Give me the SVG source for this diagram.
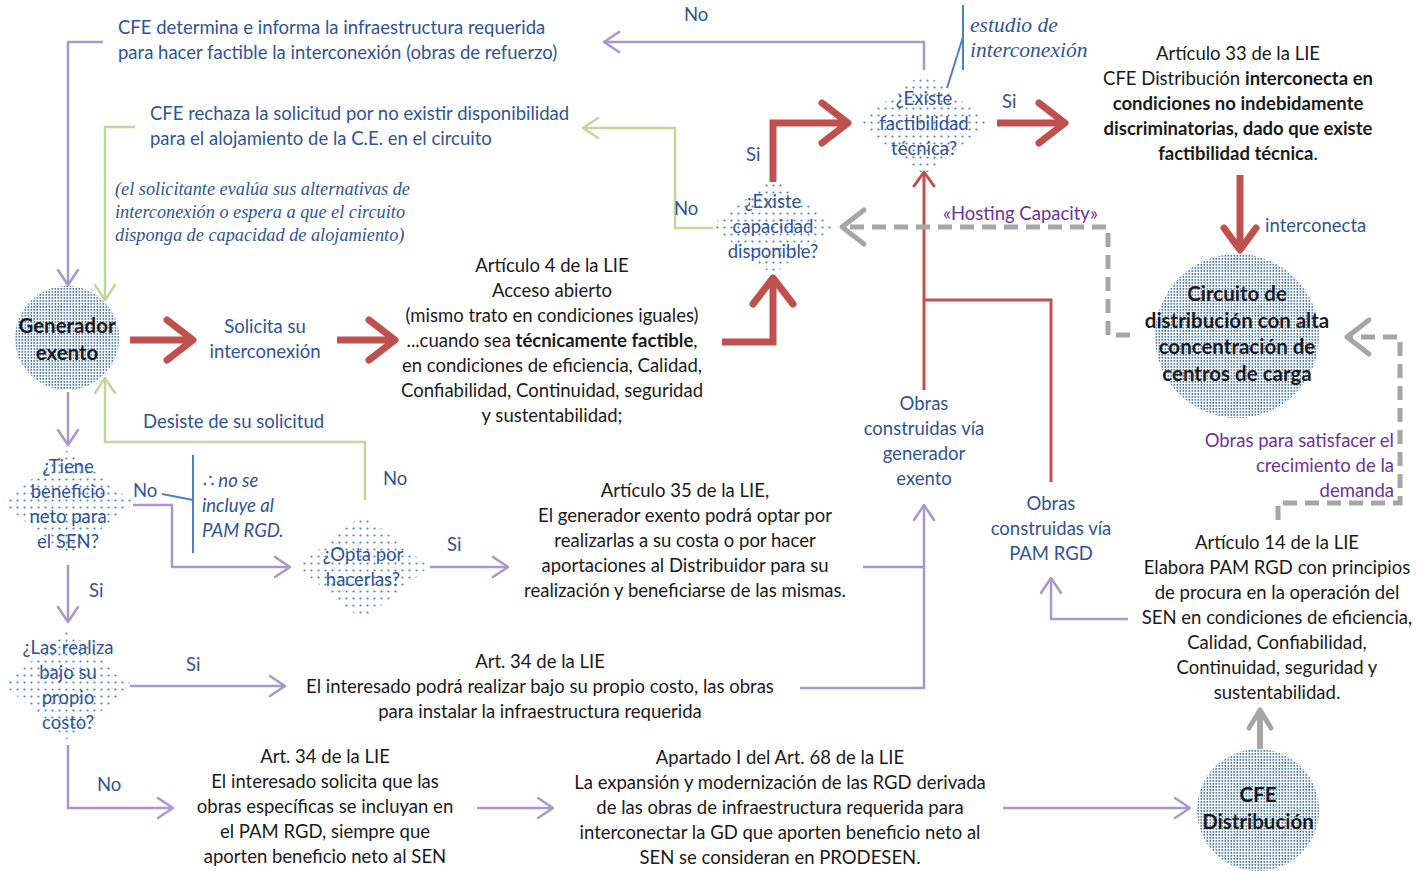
<svg xmlns="http://www.w3.org/2000/svg" width="1424" height="871" viewBox="0 0 1424 871">
<defs>
<pattern id="dense" width="3" height="3" patternUnits="userSpaceOnUse">
<rect width="3" height="3" fill="#ffffff"/>
<rect x="0.5" y="0" width="1.6" height="1.8" fill="#4F7FC0"/>
</pattern>
<pattern id="sparse" width="7" height="7" patternUnits="userSpaceOnUse">
<circle cx="3.5" cy="3.5" r="1.1" fill="#4F81BD"/>
</pattern>
<marker id="redChev" markerUnits="userSpaceOnUse" markerWidth="44" markerHeight="52" refX="36" refY="26" orient="auto">
<path d="M10,6 L36,26 L10,46" fill="none" stroke="#C0504D" stroke-width="7" stroke-linecap="round" stroke-linejoin="round"/>
</marker>
<marker id="redDown" markerUnits="userSpaceOnUse" markerWidth="44" markerHeight="44" refX="36" refY="22" orient="auto">
<path d="M14,6 L36,22 L14,38" fill="none" stroke="#C0504D" stroke-width="7" stroke-linecap="round" stroke-linejoin="round"/>
</marker>
<marker id="redThin" markerUnits="userSpaceOnUse" markerWidth="24" markerHeight="26" refX="20" refY="13" orient="auto">
<path d="M6,3 L20,13 L6,23" fill="none" stroke="#C0504D" stroke-width="3" stroke-linecap="round" stroke-linejoin="round"/>
</marker>
<marker id="purChev" markerUnits="userSpaceOnUse" markerWidth="24" markerHeight="26" refX="20" refY="13" orient="auto">
<path d="M5,3 L20,13 L5,23" fill="none" stroke="#A898CB" stroke-width="2.5" stroke-linecap="round" stroke-linejoin="round"/>
</marker>
<marker id="grnChev" markerUnits="userSpaceOnUse" markerWidth="24" markerHeight="26" refX="20" refY="13" orient="auto">
<path d="M5,3 L20,13 L5,23" fill="none" stroke="#C3D69B" stroke-width="2.5" stroke-linecap="round" stroke-linejoin="round"/>
</marker>
<marker id="grayChev" markerUnits="userSpaceOnUse" markerWidth="36" markerHeight="44" refX="30" refY="22" orient="auto">
<path d="M8,5 L30,22 L8,39" fill="none" stroke="#A6A6A6" stroke-width="5" stroke-linecap="round" stroke-linejoin="round"/>
</marker>
<marker id="grayHead" markerUnits="userSpaceOnUse" markerWidth="30" markerHeight="30" refX="24" refY="15" orient="auto">
<path d="M6,4 L24,15 L6,26" fill="none" stroke="#A6A6A6" stroke-width="5" stroke-linecap="round" stroke-linejoin="round"/>
</marker>
<style>
.t{font-family:Lato,"Liberation Sans",sans-serif;font-size:18.5px;}
.blue{fill:#2F5496;}
.blk{fill:#1a1a1a;}
.pur{fill:#7030A0;}
.b{font-weight:bold;}
.c{text-anchor:middle;}
.r{text-anchor:end;}
.ser{font-family:"Liberation Serif","DejaVu Serif",serif;font-style:italic;fill:#2F5496;}
.it{font-style:italic;}
.nb{font-size:20.5px;}
.pl{fill:none;stroke:#A898CB;stroke-width:2.5;}
.gl{fill:none;stroke:#C3D69B;stroke-width:2.5;}
.rl{fill:none;stroke:#C0504D;stroke-width:7;}
.rt{fill:none;stroke:#C0504D;stroke-width:3;}
.gd{fill:none;stroke:#A6A6A6;stroke-width:5;stroke-dasharray:14 8;}
.gs{fill:none;stroke:#A6A6A6;stroke-width:6;}
.cl{fill:none;stroke:#4F81BD;stroke-width:2;}
.circ{fill:url(#dense);}
.dia{fill:url(#sparse);}
</style>
</defs>
<rect width="1424" height="871" fill="#ffffff"/>

<g id="connectors">
<path class="pl" d="M924,70 V42 H604" marker-end="url(#purChev)"/>
<path class="pl" d="M103,42 H68 V285" marker-end="url(#purChev)"/>
<path class="pl" d="M68,392 V445" marker-end="url(#purChev)"/>
<path class="pl" d="M68,565 V622" marker-end="url(#purChev)"/>
<path class="pl" d="M133,505 H172 V567 H290" marker-end="url(#purChev)"/>
<path class="pl" d="M430,567 H508" marker-end="url(#purChev)"/>
<path class="pl" d="M130,686 H285" marker-end="url(#purChev)"/>
<path class="pl" d="M68,745 V808 H173" marker-end="url(#purChev)"/>
<path class="pl" d="M477,808 H553" marker-end="url(#purChev)"/>
<path class="pl" d="M1003,808 H1190" marker-end="url(#purChev)"/>
<path class="pl" d="M863,567 H924"/>
<path class="pl" d="M800,688 H924 V505" marker-end="url(#purChev)"/>
<path class="pl" d="M1128,619 H1051 V578" marker-end="url(#purChev)"/>
<path class="gl" d="M713,228 H675 V128 H583" marker-end="url(#grnChev)"/>
<path class="gl" d="M135,127 H105 V300" marker-end="url(#grnChev)"/>
<path class="gl" d="M365,500 V442 H105 V378" marker-end="url(#grnChev)"/>
<path class="rl" d="M130,340 H193" marker-end="url(#redChev)"/>
<path class="rl" d="M337,340 H395" marker-end="url(#redChev)"/>
<path class="rl" d="M722,342 H773 V278" marker-end="url(#redChev)"/>
<path class="rl" d="M773,182 V123 H848" marker-end="url(#redChev)"/>
<path class="rl" d="M997,123 H1065" marker-end="url(#redChev)"/>
<path class="rl" d="M1240,175 V250" marker-end="url(#redDown)"/>
<path class="rt" d="M1051,482 V300 H924"/>
<path class="rt" d="M924,390 V172" marker-end="url(#redThin)"/>
<path class="gd" d="M1130,335 H1108 V227 H842" marker-end="url(#grayChev)"/>
<path class="gd" d="M1278,520 V503 H1400 V337 H1347" marker-end="url(#grayChev)"/>
<path class="gs" d="M1260,752 V710" marker-end="url(#grayHead)"/>
<path class="cl" d="M963,5 V70 M963,37 L947,88"/>
<path class="cl" d="M193,455 V553 M162,494 L193,500"/>
</g>

<g id="n-cfe-determina">
<text class="t blue" x="118" y="34">CFE determina e informa la infraestructura requerida</text>
<text class="t blue" x="118" y="59">para hacer factible la interconexión (obras de refuerzo)</text>
</g>
<g id="n-cfe-rechaza">
<text class="t blue" x="150" y="120">CFE rechaza la solicitud por no existir disponibilidad</text>
<text class="t blue" x="150" y="145">para el alojamiento de la C.E. en el circuito</text>
</g>
<g id="n-nota-solicitante">
<text class="ser" font-size="18.3" x="115" y="195">(el solicitante evalúa sus alternativas de</text>
<text class="ser" font-size="18.3" x="115" y="218">interconexión o espera a que el circuito</text>
<text class="ser" font-size="18.3" x="115" y="241">disponga de capacidad de alojamiento)</text>
</g>
<g id="n-estudio">
<text class="ser" font-size="21.5" x="970" y="32">estudio de</text>
<text class="ser" font-size="21.5" x="970" y="57">interconexión</text>
</g>

<g id="n-generador">
<circle class="circ" cx="67" cy="338" r="52"/>
<text class="t blk b c nb" x="67" y="333">Generador</text>
<text class="t blk b c nb" x="67" y="360">exento</text>
</g>

<g id="n-solicita">
<text class="t blue c" x="265" y="333">Solicita su</text>
<text class="t blue c" x="265" y="358">interconexión</text>
</g>

<g id="n-art4">
<text class="t blk c" x="552" y="272">Artículo 4 de la LIE</text>
<text class="t blk c" x="552" y="297">Acceso abierto</text>
<text class="t blk c" x="552" y="322">(mismo trato en condiciones iguales)</text>
<text class="t blk c" x="552" y="347">...cuando sea <tspan class="b">técnicamente factible</tspan>,</text>
<text class="t blk c" x="552" y="372">en condiciones de eficiencia, Calidad,</text>
<text class="t blk c" x="552" y="397">Confiabilidad, Continuidad, seguridad</text>
<text class="t blk c" x="552" y="422">y sustentabilidad;</text>
</g>

<g id="n-capacidad">
<polygon class="dia" points="773,178 835,226 773,275 711,226"/>
<text class="t blue c" x="773" y="208">¿Existe</text>
<text class="t blue c" x="773" y="233">capacidad</text>
<text class="t blue c" x="773" y="258">disponible?</text>
</g>

<g id="n-factibilidad">
<polygon class="dia" points="924,72 990,123 924,175 858,123"/>
<text class="t blue c" x="924" y="105">¿Existe</text>
<text class="t blue c" x="924" y="130">factibilidad</text>
<text class="t blue c" x="924" y="155">técnica?</text>
</g>

<g id="n-art33">
<text class="t blk c" x="1238" y="60">Artículo 33 de la LIE</text>
<text class="t blk c" x="1238" y="85">CFE Distribución <tspan class="b">interconecta en</tspan></text>
<text class="t blk c b" x="1238" y="110">condiciones no indebidamente</text>
<text class="t blk c b" x="1238" y="135">discriminatorias,  dado que existe</text>
<text class="t blk c" x="1238" y="160"><tspan class="b">factibilidad técnica</tspan>.</text>
</g>

<g id="n-circuito">
<circle class="circ" cx="1237" cy="336" r="82"/>
<text class="t blk b c nb" x="1237" y="301">Circuito de</text>
<text class="t blk b c nb" x="1237" y="328">distribución con alta</text>
<text class="t blk b c nb" x="1237" y="354">concentración de</text>
<text class="t blk b c nb" x="1237" y="381">centros de carga</text>
</g>

<g id="n-obras-generador">
<text class="t blue c" x="924" y="410">Obras</text>
<text class="t blue c" x="924" y="435">construidas vía</text>
<text class="t blue c" x="924" y="460">generador</text>
<text class="t blue c" x="924" y="485">exento</text>
</g>

<g id="n-obras-pam">
<text class="t blue c" x="1051" y="510">Obras</text>
<text class="t blue c" x="1051" y="535">construidas vía</text>
<text class="t blue c" x="1051" y="560">PAM RGD</text>
</g>

<g id="n-obras-demanda">
<text class="t pur r" x="1394" y="447">Obras para satisfacer el</text>
<text class="t pur r" x="1394" y="472">crecimiento de la</text>
<text class="t pur r" x="1394" y="497">demanda</text>
</g>

<g id="n-art14">
<text class="t blk c" x="1277" y="549">Artículo 14 de la LIE</text>
<text class="t blk c" x="1277" y="574">Elabora PAM RGD con principios</text>
<text class="t blk c" x="1277" y="599">de procura en la operación del</text>
<text class="t blk c" x="1277" y="624">SEN en condiciones de eficiencia,</text>
<text class="t blk c" x="1277" y="649">Calidad, Confiabilidad,</text>
<text class="t blk c" x="1277" y="674">Continuidad, seguridad y</text>
<text class="t blk c" x="1277" y="699">sustentabilidad.</text>
</g>

<g id="n-beneficio">
<polygon class="dia" points="68,450 134,503 68,556 2,503"/>
<text class="t blue c" x="68" y="473">¿Tiene</text>
<text class="t blue c" x="68" y="498">beneficio</text>
<text class="t blue c" x="68" y="523">neto para</text>
<text class="t blue c" x="68" y="548">el SEN?</text>
</g>

<g id="n-nota-pam">
<text class="t blue it" x="202" y="487">∴ no se</text>
<text class="t blue it" x="202" y="512">incluye al</text>
<text class="t blue it" x="202" y="537">PAM RGD.</text>
</g>

<g id="n-opta">
<polygon class="dia" points="363,514 429,567 363,620 297,567"/>
<text class="t blue c" x="363" y="561">¿Opta por</text>
<text class="t blue c" x="363" y="586">hacerlas?</text>
</g>

<g id="n-art35">
<text class="t blk c" x="685" y="497">Artículo 35 de la LIE,</text>
<text class="t blk c" x="685" y="522">El generador exento podrá optar por</text>
<text class="t blk c" x="685" y="547">realizarlas a su costa o por hacer</text>
<text class="t blk c" x="685" y="572">aportaciones al Distribuidor para su</text>
<text class="t blk c" x="685" y="597">realización y beneficiarse de las mismas.</text>
</g>

<g id="n-propio-costo">
<polygon class="dia" points="68,630 132,685 68,740 4,685"/>
<text class="t blue c" x="68" y="654">¿Las realiza</text>
<text class="t blue c" x="68" y="679">bajo su</text>
<text class="t blue c" x="68" y="704">propio</text>
<text class="t blue c" x="68" y="729">costo?</text>
</g>

<g id="n-art34a">
<text class="t blk c" x="540" y="668">Art. 34 de la LIE</text>
<text class="t blk c" x="540" y="693">El interesado podrá realizar bajo su propio costo, las obras</text>
<text class="t blk c" x="540" y="718">para instalar la infraestructura requerida</text>
</g>

<g id="n-art34b">
<text class="t blk c" x="325" y="763">Art. 34 de la LIE</text>
<text class="t blk c" x="325" y="788">El interesado solicita que las</text>
<text class="t blk c" x="325" y="813">obras específicas se incluyan en</text>
<text class="t blk c" x="325" y="838">el PAM RGD, siempre que</text>
<text class="t blk c" x="325" y="863">aporten beneficio neto al SEN</text>
</g>

<g id="n-art68">
<text class="t blk c" x="780" y="764">Apartado I del Art. 68 de la LIE</text>
<text class="t blk c" x="780" y="789">La expansión y modernización de las RGD derivada</text>
<text class="t blk c" x="780" y="814">de las obras de infraestructura requerida para</text>
<text class="t blk c" x="780" y="839">interconectar la GD que aporten beneficio neto al</text>
<text class="t blk c" x="780" y="864">SEN se consideran en PRODESEN.</text>
</g>

<g id="n-cfe-distribucion">
<circle class="circ" cx="1258" cy="810" r="61"/>
<text class="t blk b c nb" x="1258" y="802">CFE</text>
<text class="t blk b c nb" x="1258" y="829">Distribución</text>
</g>

<g id="labels">
<text class="t blue" x="684" y="21">No</text>
<text class="t blue" x="1002" y="108">Si</text>
<text class="t blue" x="746" y="161">Si</text>
<text class="t blue" x="674" y="215">No</text>
<text class="t blue" x="1265" y="232">interconecta</text>
<text class="t pur" x="943" y="220">«Hosting Capacity»</text>
<text class="t blue" x="143" y="428">Desiste de su solicitud</text>
<text class="t blue" x="383" y="485">No</text>
<text class="t blue" x="133" y="497">No</text>
<text class="t blue" x="447" y="551">Si</text>
<text class="t blue" x="89" y="597">Si</text>
<text class="t blue" x="186" y="671">Si</text>
<text class="t blue" x="97" y="791">No</text>
</g>
</svg>
